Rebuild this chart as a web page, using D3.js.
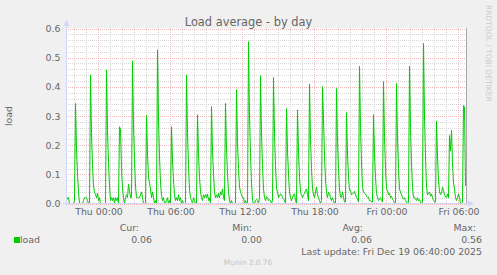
<!DOCTYPE html>
<html><head><meta charset="utf-8">
<script src="https://cdn.jsdelivr.net/npm/d3@7"></script>
<style>
html,body{margin:0;padding:0;background:#F0F0F0;}
svg{display:block;font-family:"DejaVu Sans",sans-serif;}
</style></head>
<body>
<script>
// ---- data ----
const title = "Load average - by day";
const yLabel = "load";
const seriesName = "load";
const startTime = new Date(2025, 11, 17, 21, 20);
const endTime = new Date(2025, 11, 19, 6, 40);
const stepMinutes = 5;
const xTickTimes = [new Date(2025,11,18,0,0), new Date(2025,11,18,6,0), new Date(2025,11,18,12,0),
                    new Date(2025,11,18,18,0), new Date(2025,11,19,0,0), new Date(2025,11,19,6,0)];
const xTickLabels = ["Thu 00:00","Thu 06:00","Thu 12:00","Thu 18:00","Fri 00:00","Fri 06:00"];
const yTicks = [0.0, 0.1, 0.2, 0.3, 0.4, 0.5, 0.6];
const legendHeads = ["Cur:", "Min:", "Avg:", "Max:"];
const legendValues = ["0.06", "0.00", "0.06", "0.56"];
const lastUpdate = "Last update: Fri Dec 19 06:40:00 2025";
const footer = "Munin 2.0.76";
const watermark = "RRDTOOL / TOBI OETIKER";
const loadValues = [
 0.01,0.02,0.02,0.00,0.00,0.00,0.00,0.00,0.01,0.343,0.19,0.10,0.04,0.00,0.00,0.00,0.00,0.01,0.02,0.02,
 0.02,0.01,0.00,0.00,0.441,0.24,0.13,0.06,0.04,0.03,0.02,0.035,0.01,0.02,0.00,0.00,0.00,0.00,0.00,0.00,
 0.458,0.25,0.14,0.06,0.01,0.02,0.01,0.02,0.00,0.02,0.01,0.02,0.00,0.263,0.255,0.12,0.05,0.02,0.00,0.02,
 0.03,0.02,0.066,0.045,0.02,0.02,0.489,0.27,0.15,0.06,0.02,0.02,0.02,0.02,0.03,0.04,0.02,0.00,0.00,0.00,
 0.302,0.17,0.09,0.07,0.05,0.02,0.04,0.02,0.00,0.01,0.00,0.527,0.29,0.16,0.07,0.03,0.01,0.02,0.00,0.00,
 0.01,0.02,0.00,0.01,0.00,0.263,0.15,0.08,0.03,0.01,0.02,0.01,0.03,0.01,0.02,0.00,0.01,0.00,0.00,0.00,
 0.441,0.24,0.13,0.05,0.02,0.01,0.00,0.02,0.01,0.00,0.00,0.304,0.17,0.09,0.04,0.02,0.01,0.03,0.02,0.03,
 0.02,0.033,0.01,0.02,0.00,0.332,0.18,0.10,0.04,0.02,0.03,0.02,0.035,0.02,0.04,0.03,0.05,0.02,0.01,0.343,
 0.19,0.10,0.04,0.01,0.00,0.01,0.00,0.00,0.00,0.00,0.390,0.21,0.12,0.056,0.04,0.03,0.02,0.02,0.00,0.01,
 0.00,0.00,0.555,0.30,0.17,0.07,0.01,0.00,0.00,0.01,0.015,0.01,0.00,0.02,0.438,0.24,0.13,0.05,0.02,0.01,
 0.024,0.02,0.01,0.013,0.01,0.00,0.01,0.432,0.24,0.13,0.05,0.04,0.02,0.025,0.033,0.03,0.02,0.016,0.01,0.00,
 0.325,0.18,0.10,0.04,0.02,0.01,0.02,0.03,0.033,0.01,0.00,0.321,0.18,0.09,0.04,0.027,0.02,0.03,0.033,0.045,
 0.05,0.03,0.01,0.410,0.22,0.12,0.05,0.03,0.02,0.04,0.056,0.03,0.02,0.01,0.00,0.01,0.401,0.287,0.165,0.08,
 0.04,0.02,0.039,0.035,0.02,0.01,0.02,0.01,0.00,0.00,0.394,0.21,0.12,0.05,0.022,0.02,0.04,0.02,0.005,0.005,
 0.312,0.17,0.09,0.045,0.045,0.03,0.033,0.035,0.042,0.03,0.02,0.016,0.005,0.470,0.26,0.14,0.055,0.039,0.035,0.033,
 0.025,0.02,0.022,0.01,0.01,0.005,0.005,0.305,0.17,0.09,0.035,0.02,0.01,0.015,0.02,0.01,0.005,0.418,0.23,0.12,
 0.05,0.045,0.03,0.035,0.02,0.025,0.015,0.01,0.00,0.005,0.411,0.22,0.12,0.05,0.039,0.03,0.02,0.015,0.02,0.01,
 0.005,0.00,0.005,0.471,0.26,0.14,0.055,0.02,0.022,0.015,0.01,0.02,0.01,0.013,0.005,0.00,0.005,0.549,0.30,0.16,
 0.06,0.03,0.035,0.039,0.025,0.033,0.02,0.01,0.005,0.005,0.283,0.16,0.08,0.04,0.03,0.035,0.056,0.045,0.03,0.022,
 0.02,0.033,0.02,0.233,0.18,0.251,0.14,0.07,0.05,0.02,0.01,0.02,0.033,0.02,0.00,0.00,0.005,0.336,0.33,0.06
];

// ---- drawing ----
const W = 497, H = 275;
const svg = d3.select("body").append("svg").attr("width", W).attr("height", H);
svg.append("rect").attr("width", W).attr("height", H).attr("fill", "#F0F0F0");

const x = d3.scaleTime().domain([startTime, endTime]).range([66.5, 466.5]);
const y = d3.scaleLinear().domain([0, 0.6]).range([203.5, 28.5]);
const points = loadValues.map((v, i) => ({t: d3.timeMinute.offset(startTime, i * stepMinutes), v}));

// canvas
svg.append("rect").attr("x", 66).attr("y", 28).attr("width", 401).attr("height", 176).attr("fill", "#FFFFFF");

const grid = svg.append("g").attr("shape-rendering", "crispEdges");
// minor grid
const minorY = d3.range(0, 31).map(k => k * 0.02).filter(v => Math.abs(v * 10 - Math.round(v * 10)) > 1e-6);
grid.selectAll(".my").data(minorY).join("line")
  .attr("x1", 66).attr("x2", 467).attr("y1", d => Math.round(y(d)) + 0.5).attr("y2", d => Math.round(y(d)) + 0.5)
  .attr("stroke", "#D6D6D6").attr("stroke-dasharray", "1,1");
const minorX = d3.timeHour.range(startTime, endTime).filter(t => t.getHours() % 6 !== 0);
grid.selectAll(".mx").data(minorX).join("line")
  .attr("x1", d => Math.floor(x(d)) + 0.5).attr("x2", d => Math.floor(x(d)) + 0.5).attr("y1", 28).attr("y2", 204)
  .attr("stroke", "#D6D6D6").attr("stroke-dasharray", "1,1");
// major grid
grid.selectAll(".My").data(yTicks).join("line")
  .attr("x1", 66).attr("x2", 467).attr("y1", d => Math.round(y(d)) + 0.5).attr("y2", d => Math.round(y(d)) + 0.5)
  .attr("stroke", "#F0BABA").attr("stroke-dasharray", "1,1");
grid.selectAll(".Mx").data(xTickTimes).join("line")
  .attr("x1", d => Math.floor(x(d)) + 0.5).attr("x2", d => Math.floor(x(d)) + 0.5).attr("y1", 28).attr("y2", 204)
  .attr("stroke", "#F0BABA").attr("stroke-dasharray", "1,1");

// series line
const line = d3.line().x(d => x(d.t)).y(d => y(d.v));
svg.append("path").datum(points).attr("d", line)
  .attr("fill", "none").attr("stroke", "#00CC00").attr("stroke-width", 1);

// right border
svg.append("line").attr("x1", 466.5).attr("x2", 466.5).attr("y1", 28).attr("y2", 204)
  .attr("stroke", "#A8A8A8").attr("shape-rendering", "crispEdges");

// axes lines + arrows
const axisCol = "#CFD6F8";
svg.append("line").attr("x1", 66.5).attr("x2", 66.5).attr("y1", 206).attr("y2", 24)
  .attr("stroke", axisCol).attr("shape-rendering", "crispEdges");
svg.append("path").attr("d", "M63.5,26 L69.5,26 L66.5,20 Z").attr("fill", axisCol);
svg.append("line").attr("x1", 63).attr("x2", 470).attr("y1", 203.5).attr("y2", 203.5)
  .attr("stroke", axisCol).attr("shape-rendering", "crispEdges");
svg.append("path").attr("d", "M468,200.5 L468,206.5 L474,203.5 Z").attr("fill", axisCol);

// axis labels via d3 axes
const xAxis = d3.axisBottom(x).tickValues(xTickTimes).tickFormat((d, i) => xTickLabels[i]).tickSize(0).tickPadding(5);
const gx = svg.append("g").attr("transform", "translate(0,203.5)").call(xAxis);
gx.select(".domain").remove();
gx.selectAll("text").attr("fill", "#666666").style("font-size", "9.4px").style("font-family", "DejaVu Sans");

const yAxis = d3.axisLeft(y).tickValues(yTicks).tickFormat(d3.format(".1f")).tickSize(0).tickPadding(6);
const gy = svg.append("g").attr("transform", "translate(66.5,0)").call(yAxis);
gy.select(".domain").remove();
gy.selectAll("text").attr("fill", "#666666").style("font-size", "9.4px").style("font-family", "DejaVu Sans");

// title
svg.append("text").attr("x", 248.5).attr("y", 26).attr("text-anchor", "middle")
  .attr("fill", "#666666").style("font-size", "11.4px").text(title);

// y label
svg.append("text").attr("transform", "translate(12,116) rotate(-90)").attr("text-anchor", "middle")
  .attr("fill", "#666666").style("font-size", "9.4px").text(yLabel);

// watermark
svg.append("text").attr("transform", "translate(486,5) rotate(90)").attr("text-anchor", "start")
  .attr("fill", "#CCCCCC").style("font-size", "7.5px").text(watermark);

// legend
const headX = [139, 252, 363, 476];
const valX = [152, 262, 372, 482];
svg.selectAll(".lh").data(legendHeads).join("text")
  .attr("x", (d, i) => headX[i]).attr("y", 231).attr("text-anchor", "end")
  .attr("fill", "#666666").style("font-size", "9.4px").text(d => d);
svg.selectAll(".lv").data(legendValues).join("text")
  .attr("x", (d, i) => valX[i]).attr("y", 243).attr("text-anchor", "end")
  .attr("fill", "#666666").style("font-size", "9.4px").text(d => d);
svg.append("rect").attr("x", 14).attr("y", 237).attr("width", 6).attr("height", 6).attr("fill", "#00CC00");
svg.append("text").attr("x", 20).attr("y", 243).attr("fill", "#666666").style("font-size", "9.4px").text(seriesName);
svg.append("text").attr("x", 482).attr("y", 255).attr("text-anchor", "end")
  .attr("fill", "#666666").style("font-size", "9.4px").text(lastUpdate);
svg.append("text").attr("x", 248).attr("y", 265).attr("text-anchor", "middle")
  .attr("fill", "#C4C4C4").style("font-size", "7.4px").text(footer);
</script>
</body></html>
